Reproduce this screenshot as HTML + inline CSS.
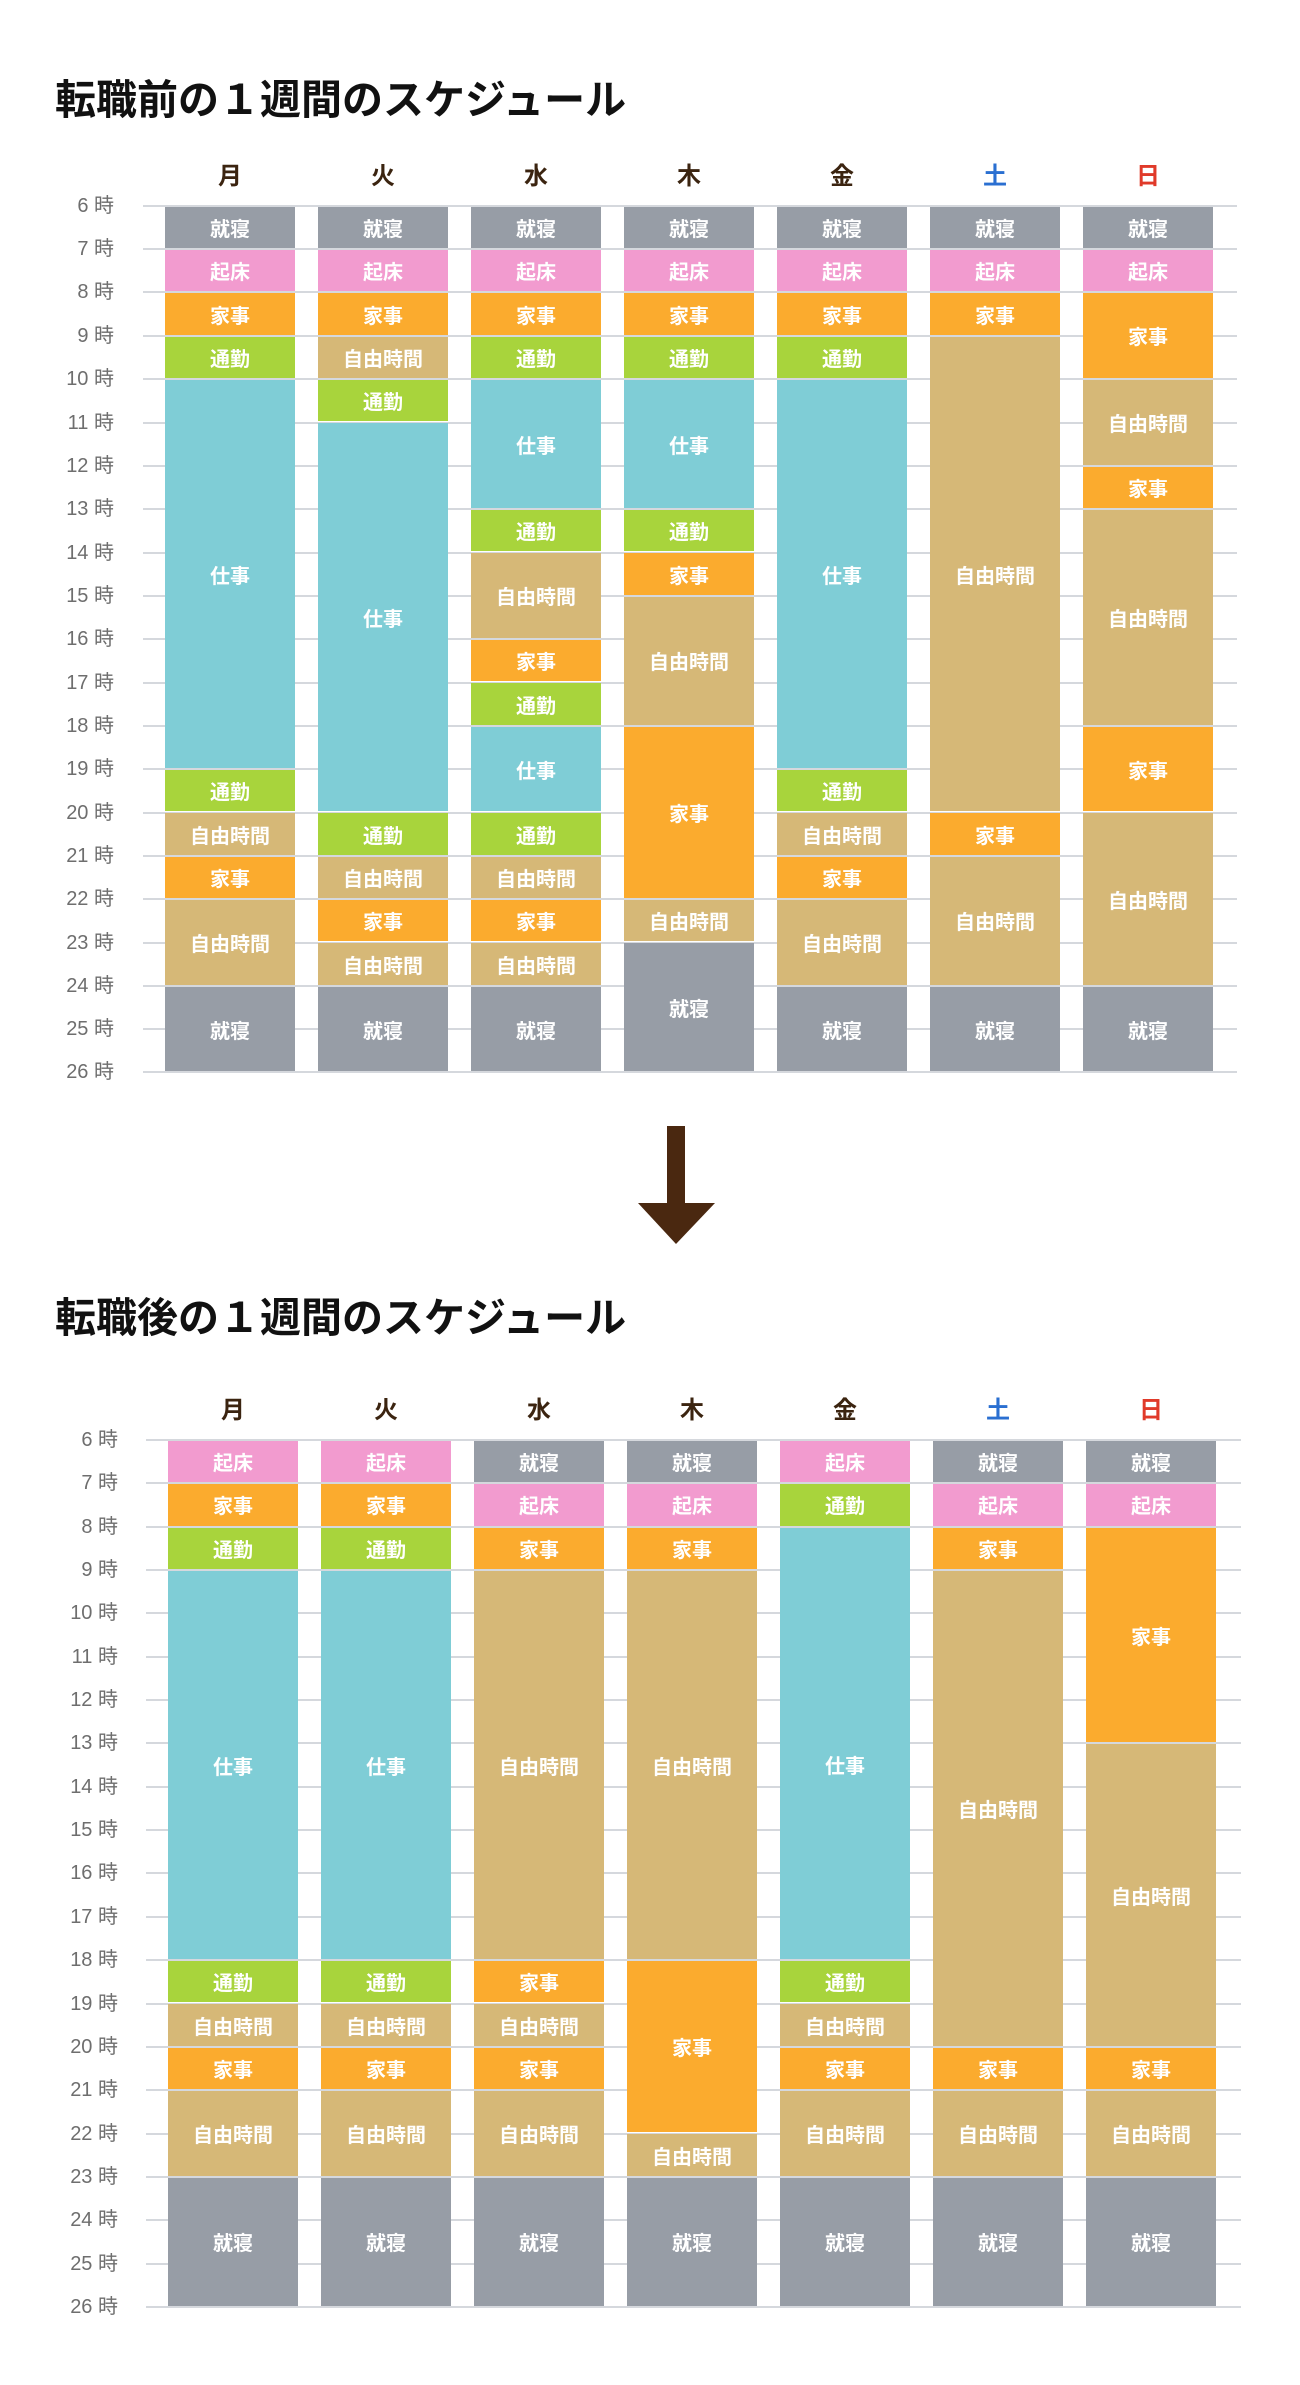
<!DOCTYPE html>
<html><head><meta charset="utf-8"><style>
body{margin:0;background:#fff;width:1300px;height:2385px;position:relative;overflow:hidden;font-family:"Liberation Sans","Noto Sans CJK JP",sans-serif}
.title{position:absolute;left:55px;font-size:41px;font-weight:bold;color:#111;letter-spacing:0px;line-height:1}
.ch{position:absolute;left:0;top:0;width:1300px;height:2385px}
.g{position:absolute;height:2px;background:#d5d8dd}
.hl{position:absolute;width:80px;text-align:right;font-size:20px;color:#6e6e6e;line-height:1}
.d{position:absolute;width:130px;text-align:center;font-size:24px;font-weight:bold;color:#3b2410;line-height:1}
.b{position:absolute;width:130px;top:calc(var(--t0) + (var(--s) - 6)*43.34px + 1px);height:calc((var(--e) - var(--s))*43.34px - 2px);display:flex;align-items:center;justify-content:center;color:#fff;font-weight:bold;font-size:20px;box-sizing:border-box}
.n{background:#979da6}.p{background:#f29bcf}.o{background:#fbab2e}.m{background:#a8d43c}.w{background:#7fcdd6}.f{background:#d6b877}
</style></head><body>
<div class="title" style="top:80px">転職前の１週間のスケジュール</div>
<div class="title" style="top:1298px">転職後の１週間のスケジュール</div>

<svg style="position:absolute;left:0;top:0" width="1300" height="2385"><rect x="667" y="1126" width="18" height="80" fill="#4a2810"/><polygon points="638,1203 715,1203 676,1244" fill="#4a2810"/></svg>

<div class="ch" style="--t0:205.7px">
<div class="g" style="left:143px;width:1094px;top:205px"></div><div class="g" style="left:143px;width:1094px;top:248px"></div><div class="g" style="left:143px;width:1094px;top:291px"></div><div class="g" style="left:143px;width:1094px;top:335px"></div><div class="g" style="left:143px;width:1094px;top:378px"></div><div class="g" style="left:143px;width:1094px;top:422px"></div><div class="g" style="left:143px;width:1094px;top:465px"></div><div class="g" style="left:143px;width:1094px;top:508px"></div><div class="g" style="left:143px;width:1094px;top:552px"></div><div class="g" style="left:143px;width:1094px;top:595px"></div><div class="g" style="left:143px;width:1094px;top:638px"></div><div class="g" style="left:143px;width:1094px;top:682px"></div><div class="g" style="left:143px;width:1094px;top:725px"></div><div class="g" style="left:143px;width:1094px;top:768px"></div><div class="g" style="left:143px;width:1094px;top:812px"></div><div class="g" style="left:143px;width:1094px;top:855px"></div><div class="g" style="left:143px;width:1094px;top:898px"></div><div class="g" style="left:143px;width:1094px;top:942px"></div><div class="g" style="left:143px;width:1094px;top:985px"></div><div class="g" style="left:143px;width:1094px;top:1028px"></div><div class="g" style="left:143px;width:1094px;top:1071px"></div>
<div class="hl" style="left:34px;top:196px">6 時</div><div class="hl" style="left:34px;top:239px">7 時</div><div class="hl" style="left:34px;top:282px">8 時</div><div class="hl" style="left:34px;top:326px">9 時</div><div class="hl" style="left:34px;top:369px">10 時</div><div class="hl" style="left:34px;top:413px">11 時</div><div class="hl" style="left:34px;top:456px">12 時</div><div class="hl" style="left:34px;top:499px">13 時</div><div class="hl" style="left:34px;top:543px">14 時</div><div class="hl" style="left:34px;top:586px">15 時</div><div class="hl" style="left:34px;top:629px">16 時</div><div class="hl" style="left:34px;top:673px">17 時</div><div class="hl" style="left:34px;top:716px">18 時</div><div class="hl" style="left:34px;top:759px">19 時</div><div class="hl" style="left:34px;top:803px">20 時</div><div class="hl" style="left:34px;top:846px">21 時</div><div class="hl" style="left:34px;top:889px">22 時</div><div class="hl" style="left:34px;top:933px">23 時</div><div class="hl" style="left:34px;top:976px">24 時</div><div class="hl" style="left:34px;top:1019px">25 時</div><div class="hl" style="left:34px;top:1062px">26 時</div>
<div class="d" style="left:165px;top:165px">月</div><div class="d" style="left:318px;top:165px">火</div><div class="d" style="left:471px;top:165px">水</div><div class="d" style="left:624px;top:165px">木</div><div class="d" style="left:777px;top:165px">金</div><div class="d" style="left:930px;top:165px;color:#2a6fd1">土</div><div class="d" style="left:1083px;top:165px;color:#e03a2a">日</div>
<!-- Mon -->
<div class="b n" style="left:165px;--s:6;--e:7">就寝</div><div class="b p" style="left:165px;--s:7;--e:8">起床</div><div class="b o" style="left:165px;--s:8;--e:9">家事</div><div class="b m" style="left:165px;--s:9;--e:10">通勤</div><div class="b w" style="left:165px;--s:10;--e:19">仕事</div><div class="b m" style="left:165px;--s:19;--e:20">通勤</div><div class="b f" style="left:165px;--s:20;--e:21">自由時間</div><div class="b o" style="left:165px;--s:21;--e:22">家事</div><div class="b f" style="left:165px;--s:22;--e:24">自由時間</div><div class="b n" style="left:165px;--s:24;--e:26">就寝</div>
<!-- Tue -->
<div class="b n" style="left:318px;--s:6;--e:7">就寝</div><div class="b p" style="left:318px;--s:7;--e:8">起床</div><div class="b o" style="left:318px;--s:8;--e:9">家事</div><div class="b f" style="left:318px;--s:9;--e:10">自由時間</div><div class="b m" style="left:318px;--s:10;--e:11">通勤</div><div class="b w" style="left:318px;--s:11;--e:20">仕事</div><div class="b m" style="left:318px;--s:20;--e:21">通勤</div><div class="b f" style="left:318px;--s:21;--e:22">自由時間</div><div class="b o" style="left:318px;--s:22;--e:23">家事</div><div class="b f" style="left:318px;--s:23;--e:24">自由時間</div><div class="b n" style="left:318px;--s:24;--e:26">就寝</div>
<!-- Wed -->
<div class="b n" style="left:471px;--s:6;--e:7">就寝</div><div class="b p" style="left:471px;--s:7;--e:8">起床</div><div class="b o" style="left:471px;--s:8;--e:9">家事</div><div class="b m" style="left:471px;--s:9;--e:10">通勤</div><div class="b w" style="left:471px;--s:10;--e:13">仕事</div><div class="b m" style="left:471px;--s:13;--e:14">通勤</div><div class="b f" style="left:471px;--s:14;--e:16">自由時間</div><div class="b o" style="left:471px;--s:16;--e:17">家事</div><div class="b m" style="left:471px;--s:17;--e:18">通勤</div><div class="b w" style="left:471px;--s:18;--e:20">仕事</div><div class="b m" style="left:471px;--s:20;--e:21">通勤</div><div class="b f" style="left:471px;--s:21;--e:22">自由時間</div><div class="b o" style="left:471px;--s:22;--e:23">家事</div><div class="b f" style="left:471px;--s:23;--e:24">自由時間</div><div class="b n" style="left:471px;--s:24;--e:26">就寝</div>
<!-- Thu -->
<div class="b n" style="left:624px;--s:6;--e:7">就寝</div><div class="b p" style="left:624px;--s:7;--e:8">起床</div><div class="b o" style="left:624px;--s:8;--e:9">家事</div><div class="b m" style="left:624px;--s:9;--e:10">通勤</div><div class="b w" style="left:624px;--s:10;--e:13">仕事</div><div class="b m" style="left:624px;--s:13;--e:14">通勤</div><div class="b o" style="left:624px;--s:14;--e:15">家事</div><div class="b f" style="left:624px;--s:15;--e:18">自由時間</div><div class="b o" style="left:624px;--s:18;--e:22">家事</div><div class="b f" style="left:624px;--s:22;--e:23">自由時間</div><div class="b n" style="left:624px;--s:23;--e:26">就寝</div>
<!-- Fri -->
<div class="b n" style="left:777px;--s:6;--e:7">就寝</div><div class="b p" style="left:777px;--s:7;--e:8">起床</div><div class="b o" style="left:777px;--s:8;--e:9">家事</div><div class="b m" style="left:777px;--s:9;--e:10">通勤</div><div class="b w" style="left:777px;--s:10;--e:19">仕事</div><div class="b m" style="left:777px;--s:19;--e:20">通勤</div><div class="b f" style="left:777px;--s:20;--e:21">自由時間</div><div class="b o" style="left:777px;--s:21;--e:22">家事</div><div class="b f" style="left:777px;--s:22;--e:24">自由時間</div><div class="b n" style="left:777px;--s:24;--e:26">就寝</div>
<!-- Sat -->
<div class="b n" style="left:930px;--s:6;--e:7">就寝</div><div class="b p" style="left:930px;--s:7;--e:8">起床</div><div class="b o" style="left:930px;--s:8;--e:9">家事</div><div class="b f" style="left:930px;--s:9;--e:20">自由時間</div><div class="b o" style="left:930px;--s:20;--e:21">家事</div><div class="b f" style="left:930px;--s:21;--e:24">自由時間</div><div class="b n" style="left:930px;--s:24;--e:26">就寝</div>
<!-- Sun -->
<div class="b n" style="left:1083px;--s:6;--e:7">就寝</div><div class="b p" style="left:1083px;--s:7;--e:8">起床</div><div class="b o" style="left:1083px;--s:8;--e:10">家事</div><div class="b f" style="left:1083px;--s:10;--e:12">自由時間</div><div class="b o" style="left:1083px;--s:12;--e:13">家事</div><div class="b f" style="left:1083px;--s:13;--e:18">自由時間</div><div class="b o" style="left:1083px;--s:18;--e:20">家事</div><div class="b f" style="left:1083px;--s:20;--e:24">自由時間</div><div class="b n" style="left:1083px;--s:24;--e:26">就寝</div>
</div>

<div class="ch" style="--t0:1440px">
<div class="g" style="left:146px;width:1095px;top:1439px"></div><div class="g" style="left:146px;width:1095px;top:1482px"></div><div class="g" style="left:146px;width:1095px;top:1526px"></div><div class="g" style="left:146px;width:1095px;top:1569px"></div><div class="g" style="left:146px;width:1095px;top:1612px"></div><div class="g" style="left:146px;width:1095px;top:1656px"></div><div class="g" style="left:146px;width:1095px;top:1699px"></div><div class="g" style="left:146px;width:1095px;top:1742px"></div><div class="g" style="left:146px;width:1095px;top:1786px"></div><div class="g" style="left:146px;width:1095px;top:1829px"></div><div class="g" style="left:146px;width:1095px;top:1872px"></div><div class="g" style="left:146px;width:1095px;top:1916px"></div><div class="g" style="left:146px;width:1095px;top:1959px"></div><div class="g" style="left:146px;width:1095px;top:2003px"></div><div class="g" style="left:146px;width:1095px;top:2046px"></div><div class="g" style="left:146px;width:1095px;top:2089px"></div><div class="g" style="left:146px;width:1095px;top:2133px"></div><div class="g" style="left:146px;width:1095px;top:2176px"></div><div class="g" style="left:146px;width:1095px;top:2219px"></div><div class="g" style="left:146px;width:1095px;top:2263px"></div><div class="g" style="left:146px;width:1095px;top:2306px"></div>
<div class="hl" style="left:38px;top:1430px">6 時</div><div class="hl" style="left:38px;top:1473px">7 時</div><div class="hl" style="left:38px;top:1517px">8 時</div><div class="hl" style="left:38px;top:1560px">9 時</div><div class="hl" style="left:38px;top:1603px">10 時</div><div class="hl" style="left:38px;top:1647px">11 時</div><div class="hl" style="left:38px;top:1690px">12 時</div><div class="hl" style="left:38px;top:1733px">13 時</div><div class="hl" style="left:38px;top:1777px">14 時</div><div class="hl" style="left:38px;top:1820px">15 時</div><div class="hl" style="left:38px;top:1863px">16 時</div><div class="hl" style="left:38px;top:1907px">17 時</div><div class="hl" style="left:38px;top:1950px">18 時</div><div class="hl" style="left:38px;top:1994px">19 時</div><div class="hl" style="left:38px;top:2037px">20 時</div><div class="hl" style="left:38px;top:2080px">21 時</div><div class="hl" style="left:38px;top:2124px">22 時</div><div class="hl" style="left:38px;top:2167px">23 時</div><div class="hl" style="left:38px;top:2210px">24 時</div><div class="hl" style="left:38px;top:2254px">25 時</div><div class="hl" style="left:38px;top:2297px">26 時</div>
<div class="d" style="left:168px;top:1399px">月</div><div class="d" style="left:321px;top:1399px">火</div><div class="d" style="left:474px;top:1399px">水</div><div class="d" style="left:627px;top:1399px">木</div><div class="d" style="left:780px;top:1399px">金</div><div class="d" style="left:933px;top:1399px;color:#2a6fd1">土</div><div class="d" style="left:1086px;top:1399px;color:#e03a2a">日</div>
<!-- Mon -->
<div class="b p" style="left:168px;--s:6;--e:7">起床</div><div class="b o" style="left:168px;--s:7;--e:8">家事</div><div class="b m" style="left:168px;--s:8;--e:9">通勤</div><div class="b w" style="left:168px;--s:9;--e:18">仕事</div><div class="b m" style="left:168px;--s:18;--e:19">通勤</div><div class="b f" style="left:168px;--s:19;--e:20">自由時間</div><div class="b o" style="left:168px;--s:20;--e:21">家事</div><div class="b f" style="left:168px;--s:21;--e:23">自由時間</div><div class="b n" style="left:168px;--s:23;--e:26">就寝</div>
<!-- Tue -->
<div class="b p" style="left:321px;--s:6;--e:7">起床</div><div class="b o" style="left:321px;--s:7;--e:8">家事</div><div class="b m" style="left:321px;--s:8;--e:9">通勤</div><div class="b w" style="left:321px;--s:9;--e:18">仕事</div><div class="b m" style="left:321px;--s:18;--e:19">通勤</div><div class="b f" style="left:321px;--s:19;--e:20">自由時間</div><div class="b o" style="left:321px;--s:20;--e:21">家事</div><div class="b f" style="left:321px;--s:21;--e:23">自由時間</div><div class="b n" style="left:321px;--s:23;--e:26">就寝</div>
<!-- Wed -->
<div class="b n" style="left:474px;--s:6;--e:7">就寝</div><div class="b p" style="left:474px;--s:7;--e:8">起床</div><div class="b o" style="left:474px;--s:8;--e:9">家事</div><div class="b f" style="left:474px;--s:9;--e:18">自由時間</div><div class="b o" style="left:474px;--s:18;--e:19">家事</div><div class="b f" style="left:474px;--s:19;--e:20">自由時間</div><div class="b o" style="left:474px;--s:20;--e:21">家事</div><div class="b f" style="left:474px;--s:21;--e:23">自由時間</div><div class="b n" style="left:474px;--s:23;--e:26">就寝</div>
<!-- Thu -->
<div class="b n" style="left:627px;--s:6;--e:7">就寝</div><div class="b p" style="left:627px;--s:7;--e:8">起床</div><div class="b o" style="left:627px;--s:8;--e:9">家事</div><div class="b f" style="left:627px;--s:9;--e:18">自由時間</div><div class="b o" style="left:627px;--s:18;--e:22">家事</div><div class="b f" style="left:627px;--s:22;--e:23">自由時間</div><div class="b n" style="left:627px;--s:23;--e:26">就寝</div>
<!-- Fri -->
<div class="b p" style="left:780px;--s:6;--e:7">起床</div><div class="b m" style="left:780px;--s:7;--e:8">通勤</div><div class="b w" style="left:780px;--s:8;--e:18;padding-top:43px">仕事</div><div class="b m" style="left:780px;--s:18;--e:19">通勤</div><div class="b f" style="left:780px;--s:19;--e:20">自由時間</div><div class="b o" style="left:780px;--s:20;--e:21">家事</div><div class="b f" style="left:780px;--s:21;--e:23">自由時間</div><div class="b n" style="left:780px;--s:23;--e:26">就寝</div>
<!-- Sat -->
<div class="b n" style="left:933px;--s:6;--e:7">就寝</div><div class="b p" style="left:933px;--s:7;--e:8">起床</div><div class="b o" style="left:933px;--s:8;--e:9">家事</div><div class="b f" style="left:933px;--s:9;--e:20">自由時間</div><div class="b o" style="left:933px;--s:20;--e:21">家事</div><div class="b f" style="left:933px;--s:21;--e:23">自由時間</div><div class="b n" style="left:933px;--s:23;--e:26">就寝</div>
<!-- Sun -->
<div class="b n" style="left:1086px;--s:6;--e:7">就寝</div><div class="b p" style="left:1086px;--s:7;--e:8">起床</div><div class="b o" style="left:1086px;--s:8;--e:13">家事</div><div class="b f" style="left:1086px;--s:13;--e:20">自由時間</div><div class="b o" style="left:1086px;--s:20;--e:21">家事</div><div class="b f" style="left:1086px;--s:21;--e:23">自由時間</div><div class="b n" style="left:1086px;--s:23;--e:26">就寝</div>
</div>
</body></html>
